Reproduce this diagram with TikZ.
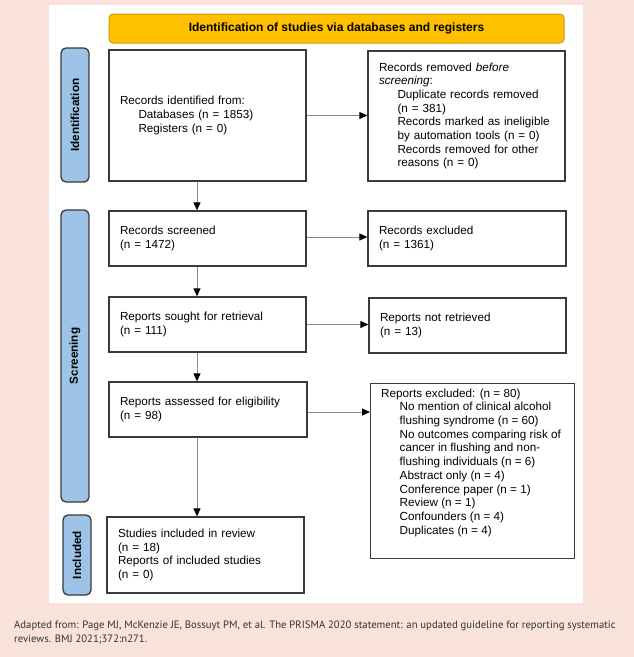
\documentclass[tikz,border=0pt]{standalone}
\usepackage{fontspec}
\setmainfont{Liberation Sans}
\newfontfamily\footfont{PT Sans}
\usetikzlibrary{arrows.meta,positioning}
\definecolor{bgpeach}{HTML}{F9E2D9}
\definecolor{hdrfill}{HTML}{FFC000}
\definecolor{hdrline}{HTML}{C99A10}
\definecolor{tabfill}{HTML}{9DC3E6}
\definecolor{boxline}{HTML}{3A3A3A}
\definecolor{arrline}{HTML}{8A8A8A}
\definecolor{foottext}{HTML}{333333}
\tikzset{
  boxfont/.style={font=\fontsize{11.7}{13.7}\selectfont},
  flowbox/.style={draw=boxline, line width=1.3pt, fill=white, inner xsep=11pt, inner ysep=0pt,
    text width=#1-22pt, align=left, boxfont},
  tabbox/.style={draw=boxline, line width=1.3pt, fill=tabfill, rounded corners=5pt,
    minimum width=28pt, inner sep=0pt},
  tablabel/.style={rotate=90, font=\bfseries\fontsize{11.7}{13}\selectfont},
  arr/.style={draw=arrline, line width=1pt, -{Triangle[length=8pt,width=7pt,color=black]}},
}
\newcommand{\ind}{\hspace*{18.5pt}}
\begin{document}
\begin{tikzpicture}[x=1pt,y=-1pt]
\useasboundingbox (0,0) rectangle (634,657);
\fill[bgpeach] (0,0) rectangle (634,657);
\fill[white] (49,5) rectangle (583,603);

% header
\node[draw=hdrline, line width=1pt, fill=hdrfill, rounded corners=4pt, minimum width=455pt, minimum height=29pt,
  inner sep=0pt, font=\bfseries\fontsize{12}{13}\selectfont] (hdr) at (336.5,28.5)
  {Identification of studies via databases and registers};

% tabs
\node[tabbox, minimum height=134pt] (tabid) at (75,115) {};
\node[tablabel] (tabidl) at (tabid.center) {Identification};
\node[tabbox, minimum height=292pt] (tabsc) at (75,356) {};
\node[tablabel] (tabscl) at (tabsc.center) {Screening};
\node[tabbox, minimum height=80pt] (tabin) at (77,555) {};
\node[tablabel] (tabinl) at (tabin.center) {Included};

% boxes
\node[flowbox=197pt, minimum height=131pt] (b1) at (207.5,115.5)
  {Records identified from:\\ \ind Databases (n = 1853)\\ \ind Registers (n = 0)};
\node[flowbox=197pt, minimum height=130pt] (b2) at (466.5,116)
  {Records removed \emph{before}\\ \emph{screening}:\\
   \ind Duplicate records removed\\ \ind (n = 381)\\
   \ind Records marked as ineligible\\ \ind by automation tools (n = 0)\\
   \ind Records removed for other\\ \ind reasons (n = 0)};
\node[flowbox=197pt, minimum height=55pt] (b3) at (207.5,238.5)
  {Records screened\\ (n = 1472)};
\node[flowbox=198pt, minimum height=55pt] (b4) at (467,238.5)
  {Records excluded\\ (n = 1361)};
\node[flowbox=197pt, minimum height=55pt] (b5) at (207.5,324.5)
  {Reports sought for retrieval\\ (n = 111)};
\node[flowbox=197pt, minimum height=55pt] (b6) at (467.5,325.5)
  {Reports not retrieved\\ (n = 13)};
\node[flowbox=198pt, minimum height=55pt] (b7) at (208,409.5)
  {Reports assessed for eligibility\\ (n = 98)};
\node[draw=boxline, line width=1.3pt, fill=white, minimum width=204pt, minimum height=175pt,
  inner sep=0pt, anchor=north west] (b8) at (370,382.5) {};
\node[anchor=north west, inner sep=0pt, align=left, boxfont] (b8t) at ([xshift=11pt,yshift=-6pt]b8.north west)
  {Reports excluded: (n = 80)\\
   \ind No mention of clinical alcohol\\ \ind flushing syndrome (n = 60)\\
   \ind No outcomes comparing risk of\\ \ind cancer in flushing and non-\\
   \ind flushing individuals (n = 6)\\ \ind Abstract only (n = 4)\\
   \ind Conference paper (n = 1)\\ \ind Review (n = 1)\\
   \ind Confounders (n = 4)\\ \ind Duplicates (n = 4)};
\node[flowbox=197pt, minimum height=76pt] (b9) at (205.5,555)
  {Studies included in review\\ (n = 18)\\ Reports of included studies\\ (n = 0)};

% connectors
\coordinate (vx) at (197,0);
\draw[arr] (b1.south -| vx) -- (b3.north -| vx);
\draw[arr] (b3.south -| vx) -- (b5.north -| vx);
\draw[arr] (b5.south -| vx) -- (b7.north -| vx);
\draw[arr] (b7.south -| vx) -- (b9.north -| vx);
\draw[arr] (b1.east) -- (b1.east -| b2.west);
\draw[arr] ([yshift=1.5pt]b3.east) -- ([yshift=1.5pt]b3.east -| b4.west);
\draw[arr] (b5.east) -- (b5.east -| b6.west);
\draw[arr] ([yshift=-2.5pt]b7.east) -- ([yshift=-2.5pt]b7.east -| b8.west);

% footer
\node[anchor=north west, inner sep=0pt, align=left, text=foottext,
  font=\footfont\fontsize{10.7}{14}\selectfont] (foot) at (14,621)
  {Adapted from: Page MJ, McKenzie JE, Bossuyt PM, et al. The PRISMA 2020 statement: an updated guideline for reporting systematic\\
   reviews. BMJ 2021;372:n271.};
\end{tikzpicture}
\end{document}
